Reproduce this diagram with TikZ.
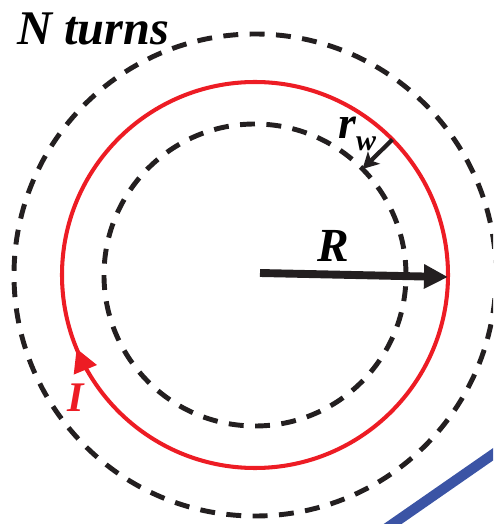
\documentclass[tikz,border=0pt]{standalone}
\usepackage{fontspec}
\setmainfont{Liberation Serif}
\usepackage{tikz}
\usetikzlibrary{arrows.meta, positioning, calc}
\definecolor{loopred}{RGB}{237,28,36}
\definecolor{wireblue}{RGB}{59,84,165}
\definecolor{inkblack}{RGB}{35,31,32}

\begin{document}
\begin{tikzpicture}[
    every node/.style={font=\bfseries\itshape, inner sep=0pt},
    % Turn envelope
    turnline/.style={dashed, dash pattern=on 8.5pt off 6.5pt, line width=2.8pt, inkblack},
    % Current loop
    loopline/.style={loopred, line width=2.3pt},
    % Radius arrows
    radarr/.style={-{Triangle[length=0.48cm, width=0.46cm]}, line width=4.5pt, inkblack},
    wirearr/.style={-{Stealth[length=0.32cm, width=0.34cm, inset=0.08cm]}, line width=2.4pt, inkblack},
    curarr/.style={-{Triangle[length=0.46cm, width=0.48cm]}, loopred, line width=2.3pt}
  ]
  \clip (-5.1,-4.98) rectangle (4.76,5.5);

  % ============ Centre ============
  \coordinate (c) at (0,0);

  % ============ Circles ============
  \draw[turnline] (c) circle (4.82);
  \draw[turnline] (c) circle (3.02);
  \draw[loopline] (c) circle (3.86);

  % ============ Feed wire ============
  \coordinate (wa) at (2.58,-5.1);
  \coordinate (wb) at (5.0,-3.42);
  \draw[wireblue, line width=5.8pt] (wa) -- (wb);

  % ============ Labels ============
  \node[anchor=base west, font=\fontsize{27.5}{30}\selectfont\bfseries\itshape] (turns) at (-4.76,4.6) {N turns};

  % ============ Radius R ============
  \coordinate (r0) at (0.1,0.04);
  \coordinate (r1) at (-0.6:3.86);
  \draw[radarr] (r0) -- (r1);
  \node[anchor=base, font=\fontsize{27}{28}\selectfont\bfseries\itshape] (rlbl) at (1.56,0.26) {R};

  % ============ Wire radius ============
  \coordinate (w0) at (44.6:3.86);
  \coordinate (w1) at (44.6:3.02);
  \draw[wirearr] (w0) -- (w1);
  \node[anchor=base west, font=\fontsize{26}{28}\selectfont\bfseries\itshape] (rwlbl) at (1.66,2.72)
    {r\raisebox{-0.25em}{\fontsize{17}{18}\selectfont w}};

  % ============ Current ============
  \draw[curarr] (208.5:3.86) arc (208.5:202.4:3.86);
  \node[anchor=base, loopred, font=\fontsize{24}{26}\selectfont\bfseries\itshape] (ilbl) at (-3.58,-2.74) {I};

\end{tikzpicture}
\end{document}
